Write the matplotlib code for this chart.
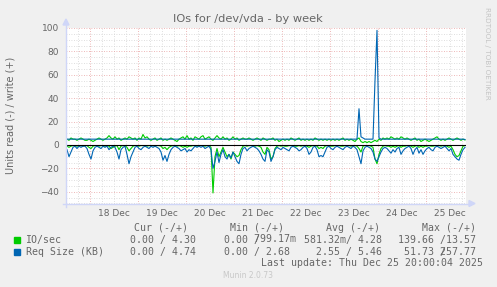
import numpy as np
import matplotlib
matplotlib.use("Agg")
import matplotlib.pyplot as plt
from matplotlib.patches import Rectangle, Polygon

# ---------------- data (hourly samples, Dec 17 12:00 -> Dec 25 20:00) ----------------
io_read = [
    1, 2, 1, 0.5, 0.5, 1, 0.5, 0.5, 1, 0.5,
    0.5, 2, 3, 1, 0.5, 0.5, 1, 0.5, 0.5, 1,
    0.5, 1, 3, 2, 1, 0.5, 4, 1, 0.5, 0.5,
    2, 5, 3, 1, 0.5, 0.5, 1, 0.5, 0.5, 0.5,
    1, 0.5, 0.5, 0.5, 1, 0.5, 0.5, 1, 3, 2,
    4, 2, 1, 0.5, 0.5, 1, 0.5, 1, 2, 1,
    2, 1, 1, 0.5, 0.5, 1, 0.5, 0.5, 0.5, 1,
    0.5, 0.5, 2, 41, 10, 3, 10, 6, 2, 6,
    10, 8, 12, 6, 8, 10, 9, 4, 1, 0.5,
    1, 0.5, 0.5, 0.5, 1, 0.5, 1, 2, 6, 8,
    2, 4, 12, 10, 3, 1, 0.5, 1, 0.5, 1,
    1, 0.5, 0.5, 0.5, 1, 1, 0.5, 1, 0.5, 0.5,
    1, 2, 1, 0.5, 0.5, 1, 3, 2, 3, 1,
    0.5, 0.5, 1, 1, 0.5, 0.5, 0.5, 1, 1, 0.5,
    0.5, 0.5, 1, 0.5, 0.5, 1, 3, 6, 1, 0.5,
    0.5, 0.5, 1, 2, 12, 16, 8, 3, 1, 0.5,
    1, 1, 2, 1, 2, 1, 0.5, 2, 1, 1,
    0.5, 0.5, 1, 2, 1, 0.5, 2, 1, 2, 1,
    1, 0.5, 1, 1, 0.5, 0.5, 0.5, 1, 0.5, 0.5,
    1, 2, 1, 4, 8, 10, 9, 5, 1, 0.5,
]
io_write = [
    5, 4, 6, 5, 5, 4, 5, 6, 5, 4,
    4, 5, 4, 3, 4, 5, 6, 5, 4, 5,
    6, 8, 6, 5, 7, 5, 6, 4, 5, 6,
    5, 7, 6, 5, 6, 4, 6, 5, 9, 6,
    7, 5, 4, 5, 6, 4, 5, 6, 4, 5,
    4, 5, 6, 5, 4, 3, 5, 6, 7, 5,
    8, 5, 6, 4, 7, 6, 5, 7, 8, 5,
    6, 7, 5, 4, 6, 8, 6, 5, 7, 5,
    6, 4, 5, 7, 5, 6, 4, 5, 6, 5,
    5, 6, 5, 4, 5, 6, 5, 4, 6, 5,
    4, 5, 5, 6, 4, 5, 3, 4, 5, 4,
    5, 4, 6, 5, 4, 5, 6, 4, 5, 4,
    5, 4, 5, 4, 6, 5, 4, 5, 4, 5,
    4, 5, 4, 5, 4, 5, 4, 5, 6, 4,
    5, 4, 5, 4, 3, 5, 6, 3, 2, 3,
    2, 3, 2, 3, 4, 3, 5, 4, 6, 5,
    6, 5, 7, 6, 5, 6, 5, 7, 6, 5,
    6, 5, 4, 5, 6, 4, 5, 3, 4, 5,
    4, 3, 4, 5, 6, 7, 5, 4, 5, 4,
    5, 6, 5, 4, 5, 6, 5, 4, 5, 4.3,
]
req_read = [
    4, 10, 6, 2, 1, 3, 1, 2, 1, 1,
    3, 8, 12, 5, 2, 1, 2, 3, 1, 2,
    1, 4, 2, 1, 2, 6, 12, 4, 2, 1,
    8, 16, 10, 6, 2, 1, 3, 4, 2, 1,
    2, 3, 1, 2, 1, 2, 3, 6, 13, 9,
    14, 8, 4, 2, 1, 2, 3, 5, 4, 3,
    6, 4, 5, 3, 1, 2, 1, 2, 1, 3,
    2, 1, 4, 20, 14, 6, 15, 8, 4, 10,
    12, 8, 11, 6, 10, 14, 16, 8, 3, 2,
    5, 3, 2, 1, 2, 3, 5, 8, 12, 14,
    4, 6, 14, 10, 4, 2, 3, 4, 2, 3,
    4, 5, 2, 1, 2, 3, 5, 4, 2, 1,
    3, 8, 6, 2, 1, 4, 10, 9, 10, 6,
    2, 1, 3, 4, 2, 1, 2, 3, 4, 2,
    1, 2, 3, 1, 2, 4, 10, 16, 5, 2,
    1, 2, 3, 6, 12, 14, 10, 6, 3, 2,
    3, 5, 7, 4, 6, 3, 2, 8, 5, 3,
    2, 1, 3, 8, 4, 2, 7, 4, 8, 5,
    3, 2, 4, 5, 2, 1, 2, 3, 2, 1,
    3, 5, 3, 8, 10, 12, 13, 8, 4, 2,
]
req_write = [
    5, 5, 5, 5, 5, 5, 5, 5, 5, 5,
    5, 5, 5, 5, 5, 5, 5, 5, 5, 5,
    5, 5, 5, 5, 5, 5, 5, 5, 5, 5,
    5, 5, 5, 5, 5, 5, 5, 5, 5, 5,
    5, 5, 5, 5, 5, 5, 5, 5, 5, 5,
    5, 5, 5, 5, 5, 5, 5, 5, 5, 5,
    5, 5, 5, 5, 5, 5, 5, 5, 5, 5,
    5, 5, 5, 5, 5, 5, 5, 5, 5, 5,
    5, 5, 5, 5, 5, 5, 5, 5, 5, 5,
    5, 5, 5, 5, 5, 5, 5, 5, 5, 5,
    5, 5, 5, 5, 5, 5, 5, 5, 5, 5,
    5, 5, 5, 5, 5, 5, 5, 5, 5, 5,
    5, 5, 5, 5, 5, 5, 5, 5, 5, 5,
    5, 5, 5, 5, 5, 5, 5, 5, 5, 5,
    5, 5, 5, 5, 5, 5, 31, 7, 6, 5,
    5, 5, 5, 5, 55, 98, 6, 5, 5, 5,
    5, 5, 5, 5, 5, 5, 5, 5, 5, 5,
    5, 5, 5, 5, 5, 5, 5, 5, 5, 5,
    5, 5, 5, 5, 5, 5, 5, 5, 5, 5,
    5, 5, 5, 5, 5, 5, 5, 5, 5, 4.74,
]
day_labels = ["18 Dec", "19 Dec", "20 Dec", "21 Dec", "22 Dec", "23 Dec", "24 Dec", "25 Dec"]
y_ticks = [-40, -20, 0, 20, 40, 60, 80, 100]
series_names = ["IO/sec", "Req Size (KB)"]
cur_txt = ["0.00 / 4.30", "0.00 / 4.74"]
min_txt = [("0.00 /", "     799.17m"), ("0.00 / 2.68", "")]
avg_txt = ["581.32m/ 4.28", "  2.55 / 5.46"]
max_txt = [("139.66 /13.57", ""), (" 51.73 /", "       257.77")]

GREEN = "#00CC00"
BLUE = "#0066B3"
FONT = "#666666"

W, H = 497, 287
fig = plt.figure(figsize=(W / 100, H / 100), dpi=100, facecolor="#F0F0F0")

def fx(x):
    return x / W

def fy(y):
    return 1 - y / H

L, R, T, B = 66, 466, 28, 203.5
ax = fig.add_axes([fx(L), fy(B), (R - L) / W, (B - T) / H])
ax.set_facecolor("white")
ax.set_xlim(0, 200)
ax.set_ylim(-50, 100)
for s in ax.spines.values():
    s.set_visible(False)

# grid
for h in np.arange(0, 201, 6):
    if (h - 12) % 24 == 0:
        continue
    ax.axvline(h, color="#d4d4d4", lw=0.6, ls=(0, (1, 2)), zorder=0)
for v in np.arange(-50, 101, 5):
    if v % 20 == 0:
        continue
    ax.axhline(v, color="#d4d4d4", lw=0.6, ls=(0, (1, 2)), zorder=0)
for h in np.arange(12, 201, 24):
    ax.axvline(h, color="#e8a0a0", lw=0.6, ls=(0, (1, 2)), zorder=0.5)
for v in y_ticks:
    ax.axhline(v, color="#e8a0a0", lw=0.6, ls=(0, (1, 2)), zorder=0.5)

t = np.arange(len(io_write)) + 0.5
lw = 0.8
ax.plot(t, -np.array(io_read), color=GREEN, lw=lw, zorder=2)
ax.plot(t, io_write, color=GREEN, lw=lw, zorder=2)
ax.plot(t, -np.array(req_read), color=BLUE, lw=lw, zorder=3)
ax.plot(t, req_write, color=BLUE, lw=lw, zorder=3)
ax.axhline(0, color="black", lw=0.8, zorder=4)

ax.set_xticks(np.arange(24, 200, 24))
ax.set_xticklabels(day_labels)
ax.set_yticks(y_ticks)
ax.tick_params(length=0, labelsize=6.5, colors=FONT, pad=5)
ax.tick_params(axis="x", pad=4)

# axes lines + arrows (figure level)
AX = "#CFD6F8"
fig.add_artist(plt.Line2D([fx(L), fx(L)], [fy(B + 3), fy(T - 4)], color=AX, lw=1))
fig.add_artist(plt.Line2D([fx(L - 3), fx(R + 4)], [fy(B), fy(B)], color=AX, lw=1))
fig.add_artist(Polygon([[fx(L - 3), fy(T - 3)], [fx(L + 3), fy(T - 3)], [fx(L), fy(T - 9)]],
                       closed=True, color=AX, transform=fig.transFigure))
fig.add_artist(Polygon([[fx(R + 3), fy(B - 3)], [fx(R + 3), fy(B + 3)], [fx(R + 9), fy(B)]],
                       closed=True, color=AX, transform=fig.transFigure))

fig.text(fx(248), fy(19), "IOs for /dev/vda - by week", ha="center", va="center",
         fontsize=8.2, color=FONT)
fig.text(fx(11), fy(115), "Units read (-) / write (+)", rotation=90, ha="center",
         va="center", fontsize=7, color=FONT)
fig.text(fx(487), fy(53), "RRDTOOL / TOBI OETIKER", rotation=270, ha="center",
         va="center", fontsize=5.2, color="#c4c4c4")

mono = dict(family="DejaVu Sans Mono", fontsize=7.1, color=FONT, va="center", ha="left")
hy, r1, r2, lu = 227.7, 239.5, 251.7, 263.5
fig.text(fx(133.5), fy(hy), "Cur (-/+)", **mono)
fig.text(fx(230.5), fy(hy), "Min (-/+)", **mono)
fig.text(fx(326.5), fy(hy), "Avg (-/+)", **mono)
fig.text(fx(422.5), fy(hy), "Max (-/+)", **mono)

for i, (yy, col) in enumerate([(r1, GREEN), (r2, BLUE)]):
    fig.add_artist(Rectangle((fx(14.3), fy(yy + 3)), 5.7 / W, 5.7 / H, color=col,
                             transform=fig.transFigure))
    fig.text(fx(25.5), fy(yy), series_names[i], **mono)
    fig.text(fx(130.5), fy(yy), cur_txt[i], **mono)
    for s in min_txt[i]:
        if s:
            fig.text(fx(224.5), fy(yy), s, **mono)
    fig.text(fx(304.5), fy(yy), avg_txt[i], **mono)
    for s in max_txt[i]:
        if s:
            fig.text(fx(397.5), fy(yy), s, **mono)

fig.text(fx(261), fy(lu), "Last update: Thu Dec 25 20:00:04 2025", **mono)
fig.text(fx(248), fy(276), "Munin 2.0.73", ha="center", va="center", fontsize=5.5,
         color="#c8c8c8")

fig.savefig("out.png", dpi=100, facecolor=fig.get_facecolor())
